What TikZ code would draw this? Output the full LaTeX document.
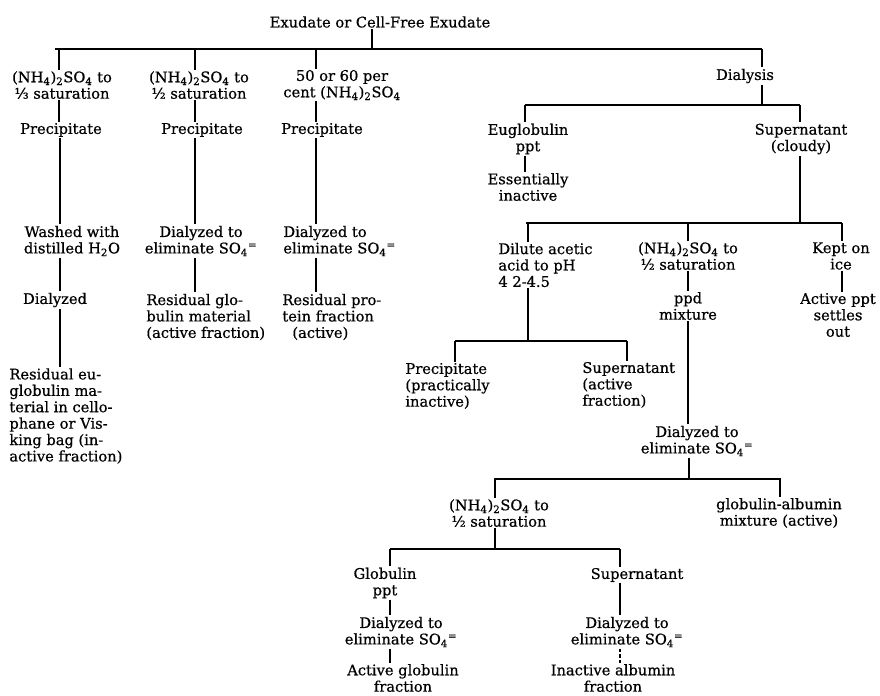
\documentclass[tikz,border=0pt]{standalone}
\usepackage{fontspec}
\setmainfont{DejaVu Serif}[FakeBold=0.6]
\usepackage{tikz}
\usetikzlibrary{calc}

\newcommand{\nhso}{(NH\textsubscript{4})\textsubscript{2}SO\textsubscript{4}}
\newcommand{\sofour}{SO\textsubscript{4}\textsuperscript{=}}

\begin{document}
\begin{tikzpicture}[x=0.03cm, y=-0.03cm,
    txt/.style={font=\fontsize{12.5}{14}\selectfont, inner sep=1pt, align=center},
    txtl/.style={txt, align=left, anchor=west},
    ln/.style={line width=0.9pt}]

\useasboundingbox (0,0) rectangle (880,695);

% Top and first level
\node[txt] (exu) at (380,22) {Exudate or Cell-Free Exudate};
\coordinate (bar1w) at (55,49);
\coordinate (bar1e) at (762,49);
\coordinate (j0) at (372,49);
\draw[ln] (bar1w) -- (bar1e);
\draw[ln] (j0 |- exu.south) -- (j0);

% Column A: 1/3 saturation
\coordinate (jA) at (59,49);
\node[txt] (a1) at (62,85) {\nhso{} to\\⅓ saturation};
\node[txt] (a2) at (61,130) {Precipitate};
\node[txt] (a3) at (72,241) {Washed with\\distilled H\textsubscript{2}O};
\node[txt] (a4) at (55,300) {Dialyzed};
\node[txtl] (a5) at (8,416) {Residual eu-\\globulin ma-\\terial in cello-\\phane or Vis-\\king bag (in-\\active fraction)};
\draw[ln] (jA) -- (jA |- a1.north);
\draw[ln] (jA |- a1.south) -- (jA |- a2.north);
\draw[ln] (a2.south -| a4) ++(5,0) -- ($(a3.north -| a4)+(5,0)$);
\draw[ln] ($(a3.south -| a4)+(5,0)$) -- ($(a4.north)+(5,0)$);
\draw[ln] ($(a4.south)+(5,0)$) -- ($(a4.south |- a5.north)+(5,0)$);

% Column B: 1/2 saturation
\coordinate (jB) at (195,49);
\node[txt] (b1) at (199,85) {\nhso{} to\\½ saturation};
\node[txt] (b2) at (202,130) {Precipitate};
\node[txt] (b3) at (201,241) {Dialyzed to\\eliminate \sofour};
\node[txtl] (b4) at (145,317) {Residual glo-\\bulin material\\(active fraction)};
\draw[ln] (jB) -- (jB |- b1.north);
\draw[ln] (jB |- b1.south) -- (jB |- b2.north);
\draw[ln] (jB |- b2.south) -- (jB |- b3.north);
\draw[ln] (jB |- b3.south) -- (jB |- b4.north);

% Column C: 50 or 60 per cent
\coordinate (jC) at (316,49);
\node[txt] (c1) at (342,85) {50 or 60 per\\cent \nhso};
\node[txt] (c2) at (322,130) {Precipitate};
\node[txtl] (c3) at (282,241) {Dialyzed to\\eliminate \sofour};
\node[txtl] (c4) at (281,317) {Residual pro-\\tein fraction\\\hspace*{0.3cm}(active)};
\draw[ln] (jC) -- (jC |- c1.north);
\draw[ln] (jC |- c1.south) -- (jC |- c2.north);
\draw[ln] (jC |- c2.south) -- (jC |- c3.north);
\draw[ln] (jC |- c3.south) -- (jC |- c4.north);

% Column D: dialysis
\coordinate (jD) at (762,49);
\node[txt] (d1) at (745,76) {Dialysis};
\draw[ln] (jD) -- (jD |- d1.north);
\coordinate (bar2w) at (525,105);
\coordinate (bar2e) at (800,105);
\draw[ln] (bar2w) -- (bar2e);
\draw[ln] (jD |- d1.south) -- (jD |- bar2w);

\node[txt] (e1) at (528,139) {Euglobulin\\ppt};
\node[txt] (e2) at (528,187) {Essentially\\inactive};
\draw[ln] (bar2w) -- (bar2w |- e1.north);
\draw[ln] (bar2w |- e1.south) -- (bar2w |- e2.north);

\node[txt] (f1) at (801,139) {Supernatant\\(cloudy)};
\coordinate (bar3w) at (526,223);
\coordinate (bar3e) at (842,223);
\draw[ln] (bar2e) -- (bar2e |- f1.north);
\draw[ln] (bar2e |- f1.south) -- (bar2e |- bar3w);
\draw[ln] (bar3w) -- (bar3e);

% Third level under the cloudy supernatant
\coordinate (jG) at (528,223);
\coordinate (jH) at (688,223);
\node[txtl] (g1) at (497,265) {Dilute acetic\\acid to pH\\4 2-4.5};
\node[txt] (h1) at (688,256) {\nhso{} to\\½ saturation};
\node[txt] (k1) at (841,256) {Kept on\\ice};
\node[txt] (k2) at (838,315) {Active ppt\\settles\\out};
\node[txt] (h2) at (688,306) {ppd\\mixture};
\draw[ln] (jG) -- (jG |- g1.north);
\draw[ln] (jH) -- (jH |- h1.north);
\draw[ln] (bar3e) -- (bar3e |- k1.north);
\draw[ln] (bar3e |- k1.south) -- (bar3e |- k2.north);
\draw[ln] (jH |- h1.south) -- (jH |- h2.north);

% Acetic acid split
\coordinate (bar4w) at (455,341);
\coordinate (bar4e) at (627,341);
\node[txtl] (g2) at (404,386) {Precipitate\\(practically\\inactive)};
\node[txtl] (g3) at (581,385) {Supernatant\\(active\\fraction)};
\draw[ln] (jG |- g1.south) -- (jG |- bar4w);
\draw[ln] (bar4w) -- (bar4e);
\draw[ln] (bar4w) -- (bar4w |- g2.north);
\draw[ln] (bar4e) -- (bar4e |- g3.north);

% Dialysis of the ppd mixture
\node[txt] (h3) at (697,441) {Dialyzed to\\eliminate \sofour};
\coordinate (bar5w) at (494,479);
\coordinate (bar5e) at (781,479);
\coordinate (jM) at (689,479);
\draw[ln] (jH |- h2.south) -- (jH |- h3.north);
\draw[ln] (jM |- h3.south) -- (jM);
\draw[ln] (bar5w) -- (bar5e);

\coordinate (jP) at (495,479);
\node[txt] (m1) at (499,513) {\nhso{} to\\½ saturation};
\node[txt] (n1) at (779,513) {globulin-albumin\\mixture (active)};
\draw[ln] (jP) -- (jP |- m1.north);
\draw[ln] (bar5e) ++(-1,0) coordinate (jN) -- (jN |- n1.north);

% Final split
\coordinate (bar6w) at (390,549);
\coordinate (bar6e) at (620,549);
\draw[ln] (jP |- m1.south) -- (jP |- bar6w);
\draw[ln] (bar6w) -- (bar6e);

\node[txt] (p1) at (385,583) {Globulin\\ppt};
\node[txt] (p2) at (401,632) {Dialyzed to\\eliminate \sofour};
\node[txt] (p3) at (403,678) {Active globulin\\fraction};
\draw[ln] (bar6w) -- (bar6w |- p1.north);
\draw[ln] (bar6w |- p1.south) -- (bar6w |- p2.north);
\draw[ln] (bar6w |- p2.south) -- (bar6w |- p3.north);

\node[txt] (q1) at (637,575) {Supernatant};
\node[txt] (q2) at (627,632) {Dialyzed to\\eliminate \sofour};
\node[txt] (q3) at (613,678) {Inactive albumin\\fraction};
\draw[ln] (bar6e) -- (bar6e |- q1.north);
\draw[ln] (bar6e |- q1.south) -- (bar6e |- q2.north);
\draw[ln, densely dashed] (bar6e |- q2.south) -- (bar6e |- q3.north);

\end{tikzpicture}
\end{document}
